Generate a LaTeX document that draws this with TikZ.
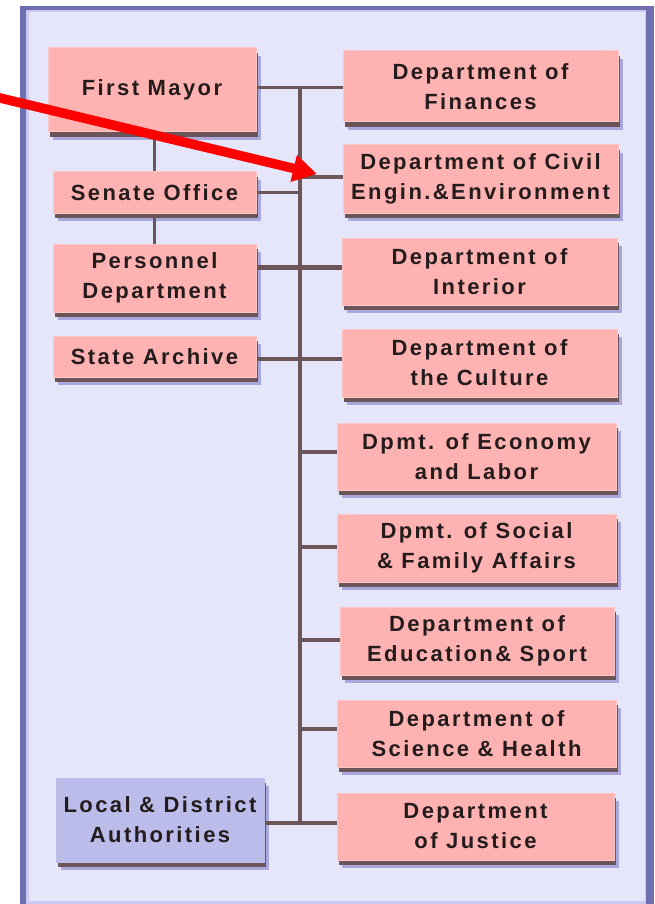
\documentclass[tikz,border=0pt]{standalone}
\usepackage{fontspec}
\usetikzlibrary{arrows.meta,shadows}
\newfontfamily\lblfont{Liberation Sans}[LetterSpace=11]
\definecolor{framedark}{RGB}{110,110,176}
\definecolor{framelight}{RGB}{200,200,240}
\definecolor{framebg}{RGB}{230,230,250}
\definecolor{boxpink}{RGB}{255,178,178}
\definecolor{boxedge}{RGB}{255,198,198}
\definecolor{boxlav}{RGB}{188,188,234}
\definecolor{shdark}{RGB}{107,85,88}
\definecolor{shpurple}{RGB}{168,168,220}
\definecolor{linecol}{RGB}{107,85,88}
\definecolor{txtcol}{RGB}{36,28,28}
\definecolor{arrowred}{RGB}{255,0,0}
\tikzset{
  box/.style={rectangle, fill=boxpink, draw=boxedge, line width=1pt, inner sep=0pt,
    align=center, text=txtcol, font=\lblfont\bfseries\fontsize{22}{30}\selectfont,
    general shadow={fill=shpurple, shadow xshift=5pt, shadow yshift=-8pt},
    general shadow={fill=shdark, shadow xshift=2pt, shadow yshift=-5pt}},
  lavbox/.style={box, fill=boxlav, draw=boxlav},
  conn/.style={draw=linecol, line width=3.5pt},
  trunkline/.style={draw=linecol, line width=4.5pt},
  redarrow/.style={draw=arrowred, line width=9.5pt, -{Triangle[length=24pt,width=26pt]}}
}
\begin{document}
\begin{tikzpicture}[x=1pt,y=-1pt]
\useasboundingbox (0,0) rectangle (655,904);
% frame
\fill[framedark] (20,6) rectangle (654,910);
\fill[framelight] (26,10) rectangle (646,904);
\fill[framebg] (29,12) rectangle (645,901);
% left boxes
\node[box, minimum width=208pt, minimum height=84pt] (fm) at (152,90) {First Mayor};
\node[box, minimum width=203pt, minimum height=41pt] (sen) at (154.5,192.5) {Senate Office};
\node[box, minimum width=203pt, minimum height=68pt] (pers) at (154.5,278) {Personnel\\Department};
\node[box, minimum width=203pt, minimum height=41pt] (arch) at (154.5,356.5) {State Archive};
\node[lavbox, minimum width=208pt, minimum height=84pt] (local) at (160,820) {Local \& District\\Authorities};
% right boxes
\node[box, minimum width=275pt, minimum height=71pt] (fin) at (480.5,86.5) {Department of\\Finances};
\node[box, minimum width=275pt, minimum height=68pt] (civ) at (480.5,179) {Department of Civil\\Engin.\&Environment};
\node[box, minimum width=275pt, minimum height=67pt] (int) at (479.5,271.5) {Department of\\Interior};
\node[box, minimum width=275pt, minimum height=68pt] (cul) at (479.5,363) {Department of\\the Culture};
\node[box, minimum width=279pt, minimum height=67pt] (eco) at (476.5,456.5) {Dpmt. of Economy\\and Labor};
\node[box, minimum width=279pt, minimum height=68pt] (soc) at (476.5,548) {Dpmt. of Social\\\& Family Affairs};
\node[box, minimum width=274pt, minimum height=68pt] (edu) at (477,641) {Department of\\Education\& Sport};
\node[box, minimum width=279pt, minimum height=67pt] (sci) at (476.5,733.5) {Department of\\Science \& Health};
\node[box, minimum width=277pt, minimum height=67pt] (jus) at (475.5,826.5) {Department\\of Justice};
% trunk coordinates
\coordinate (ttop) at (300,88);
\coordinate (tbot) at (300,823);
\coordinate (jciv) at (300,177);
\coordinate (jpers) at (300,267);
\coordinate (jarch) at (300,359);
\coordinate (jeco) at (300,452);
\coordinate (jsoc) at (300,547);
\coordinate (jedu) at (300,640);
\coordinate (jsci) at (300,729);
% connectors
\draw[trunkline] (ttop) -- (tbot);
\draw[conn, line width=3pt] (fm.east |- ttop) -- (fin.west |- ttop);
\draw[conn] (sen.east) -- (sen.east -| ttop);
\draw[conn] (jciv) -- (jciv -| civ.west);
\draw[conn, line width=5pt] (pers.east |- jpers) -- (jpers -| int.west);
\draw[conn] (arch.east |- jarch) -- (jarch -| cul.west);
\draw[conn] (jeco) -- (jeco -| eco.west);
\draw[conn] (jsoc) -- (jsoc -| soc.west);
\draw[conn] (jedu) -- (jedu -| edu.west);
\draw[conn] (jsci) -- (jsci -| sci.west);
\draw[conn] (local.east |- tbot) -- (jus.west |- tbot);
\draw[conn, line width=2.5pt] (sen.north) -- (sen.north |- fm.south);
\draw[conn, line width=3pt] (sen.south) -- (pers.north);
% red arrow
\coordinate (astart) at (-5,96.8);
\coordinate (atip) at (317,174);
\draw[redarrow] (astart) -- (atip);
\end{tikzpicture}
\end{document}
